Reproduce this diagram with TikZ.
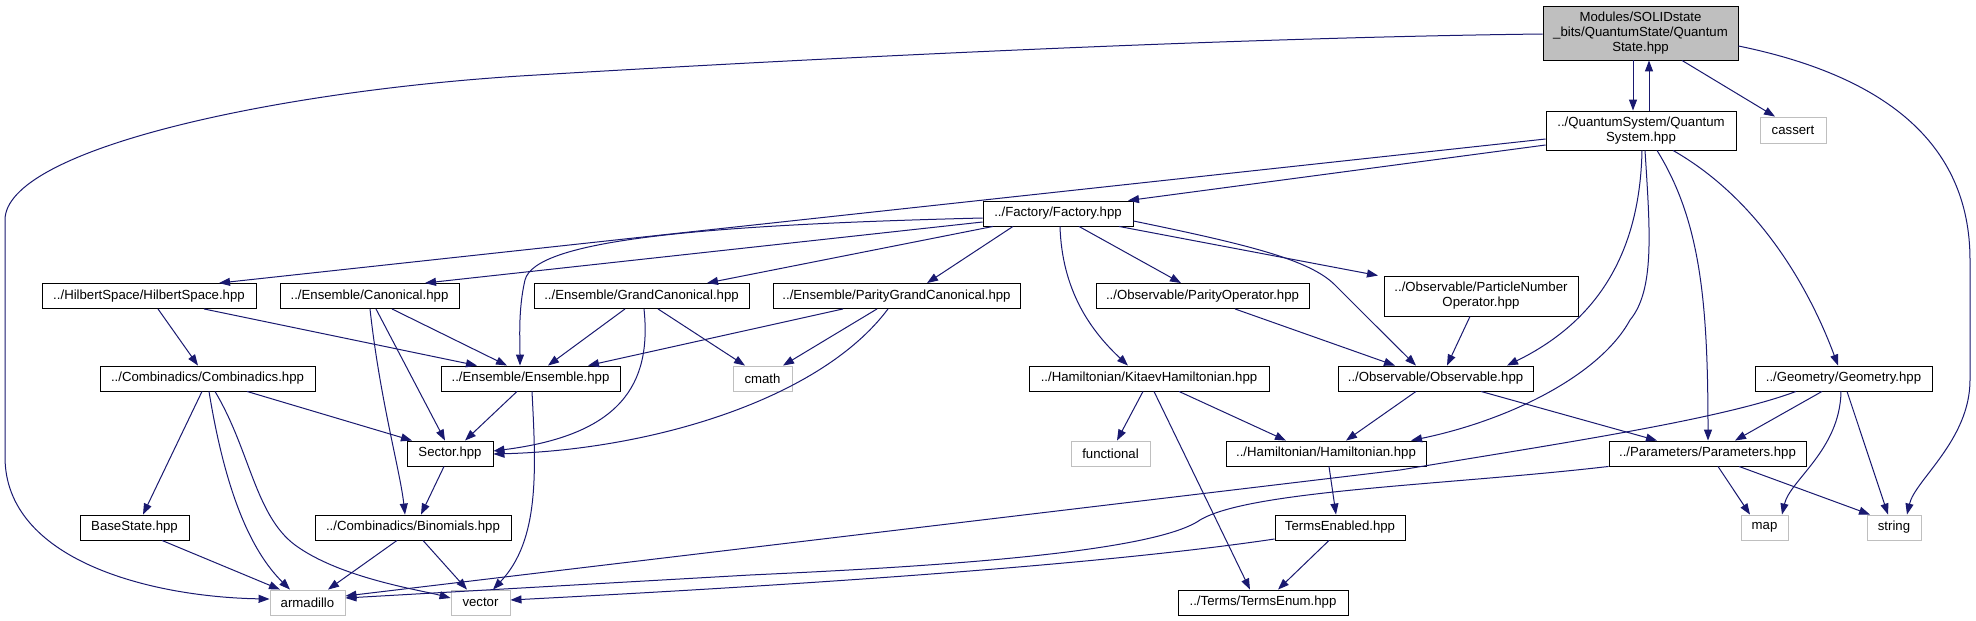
\documentclass[tikz,border=0pt]{standalone}
\usepackage{fontspec}
\setmainfont{Liberation Sans}
\usetikzlibrary{arrows.meta,calc}
\definecolor{edgec}{HTML}{191970}
\definecolor{grayb}{HTML}{BFBFBF}
\begin{document}
\begin{tikzpicture}[x=1pt,y=-1pt,
 box/.style={draw=black,line width=0.9pt,fill=white,inner sep=0pt,align=center,minimum height=25pt,font=\fontsize{13.2}{15}\selectfont},
 gbox/.style={box,draw=grayb},
 e/.style={draw=edgec,line width=1pt,-{Triangle[length=11pt,width=8pt]}}]
\useasboundingbox[fill=white] (0,0) rectangle (1976,621);
% row 0-2
\node[box,fill=grayb,minimum width=195pt,minimum height=54pt] (QS) at (1640.5,33) {Modules/SOLIDstate\\\_bits/QuantumState/Quantum\\State.hpp};
\node[box,minimum width=190pt,minimum height=39pt] (QSys) at (1641,130.5) {../QuantumSystem/Quantum\\System.hpp};
\node[gbox,minimum width=66pt,minimum height=26pt] (cassert) at (1793,130) {cassert};
\node[box,minimum width=150pt] (Factory) at (1058,213.5) {../Factory/Factory.hpp};
% row 3
\node[box,minimum width=214pt] (HS) at (149,296) {../HilbertSpace/HilbertSpace.hpp};
\node[box,minimum width=179pt] (Canon) at (369.5,296) {../Ensemble/Canonical.hpp};
\node[box,minimum width=215pt] (GC) at (641.5,296) {../Ensemble/GrandCanonical.hpp};
\node[box,minimum width=247pt] (PGC) at (896.5,296) {../Ensemble/ParityGrandCanonical.hpp};
\node[box,minimum width=213pt] (PO) at (1202.5,296) {../Observable/ParityOperator.hpp};
\node[box,minimum width=194pt,minimum height=40pt] (PN) at (1481,296) {../Observable/ParticleNumber\\Operator.hpp};
% row 4
\node[box,minimum width=215pt] (Comb) at (207.5,378.5) {../Combinadics/Combinadics.hpp};
\node[box,minimum width=179pt] (Ens) at (530.5,378.5) {../Ensemble/Ensemble.hpp};
\node[gbox,minimum width=59pt] (cmath) at (762.5,378.5) {cmath};
\node[box,minimum width=240pt] (Kitaev) at (1149,378.5) {../Hamiltonian/KitaevHamiltonian.hpp};
\node[box,minimum width=195pt] (Obs) at (1435.5,378.5) {../Observable/Observable.hpp};
\node[box,minimum width=177pt] (Geom) at (1843.5,378.5) {../Geometry/Geometry.hpp};
% row 5
\node[box,minimum width=86pt] (Sector) at (450,453.5) {Sector.hpp};
\node[gbox,minimum width=79pt] (functional) at (1110.5,453.5) {functional};
\node[box,minimum width=200pt] (Ham) at (1326,453.5) {../Hamiltonian/Hamiltonian.hpp};
\node[box,minimum width=197pt] (Params) at (1707.5,453.5) {../Parameters/Parameters.hpp};
% row 6
\node[box,minimum width=109pt] (BaseState) at (134.5,527.5) {BaseState.hpp};
\node[box,minimum width=196pt] (Binom) at (413,527.5) {../Combinadics/Binomials.hpp};
\node[box,minimum width=130pt] (TermsEnabled) at (1340,527.5) {TermsEnabled.hpp};
\node[gbox,minimum width=47pt] (map) at (1764.5,527.5) {map};
\node[gbox,minimum width=54pt] (string) at (1894,527.5) {string};
% row 7
\node[gbox,minimum width=75pt] (armadillo) at (307.5,602.5) {armadillo};
\node[gbox,minimum width=59pt] (vector) at (480.5,602.5) {vector};
\node[box,minimum width=170pt] (TermsEnum) at (1263,602.5) {../Terms/TermsEnum.hpp};

% edges from QuantumState
\draw[e] (QS.south -| 1633,0) -- (QSys.north -| 1633,0);
\draw[e] (QSys.north -| 1649,0) -- (QS.south -| 1649,0);
\draw[e] (QS.south -| 1682,0) -- (cassert.north -| 1775,0);
\draw[e] (QS.east |- 0,46) .. controls (1880,75) and (1970,140) .. (1970,260) -- (1970,380) .. controls (1970,440) and (1915,480) .. (string.north -| 1907,0);
\draw[e] (QS.west |- 0,34) .. controls (1200,38) and (750,62) .. (520,76) .. controls (270,92) and (5,150) .. (5,220) -- (5,457) .. controls (5,560) and (150,597) .. (armadillo.west |- 0,599);
% from QuantumSystem
\draw[e] (QSys.west |- 0,145) -- (Factory.north -| 1128,0);
\draw[e] (QSys.west |- 0,139) -- (HS.north -| 219,0);
\draw[e] (QSys.south -| 1642,0) .. controls (1640,250) and (1600,320) .. (Obs.north -| 1507,0);
\draw[e] (QSys.south -| 1645,0) .. controls (1650,230) and (1655,290) .. (1630,320) .. controls (1600,375) and (1510,420) .. (Ham.north -| 1411,0);
\draw[e] (QSys.south -| 1657,0) .. controls (1700,220) and (1708,300) .. (Params.north -| 1708,0);
\draw[e] (QSys.south -| 1673,0) .. controls (1760,200) and (1810,290) .. (Geom.north -| 1838,0);
% from Factory
\draw[e] (Factory.west |- 0,222) -- (Canon.north -| 425,0);
\draw[e] (Factory.west |- 0,218) .. controls (700,225) and (535,240) .. (525,280) .. controls (518,310) and (520,340) .. (Ens.north -| 520,0);
\draw[e] (Factory.south -| 993,0) -- (GC.north -| 707,0);
\draw[e] (Factory.south -| 1013,0) -- (PGC.north -| 927,0);
\draw[e] (Factory.south -| 1060,0) .. controls (1062,290) and (1090,330) .. (Kitaev.north -| 1128,0);
\draw[e] (Factory.south -| 1079,0) -- (PO.north -| 1181,0);
\draw[e] (Factory.south -| 1119,0) -- (PN.north -| 1378,0);
\draw[e] (Factory.east |- 0,221) .. controls (1250,245) and (1310,260) .. (1335,285) .. controls (1365,315) and (1395,345) .. (Obs.north -| 1416,0);
% Geometry, Parameters
\draw[e] (Geom.south -| 1796,0) .. controls (1720,420) and (1550,445) .. (1400,470) -- (armadillo.east |- 0,596);
\draw[e] (Geom.south -| 1822,0) -- (Params.north -| 1735,0);
\draw[e] (Geom.south -| 1841,0) .. controls (1840,450) and (1790,480) .. (map.north -| 1782,0);
\draw[e] (Geom.south -| 1847,0) -- (string.north -| 1888,0);
\draw[e] (Params.south -| 1718,0) -- (map.north -| 1750,0);
\draw[e] (Params.south -| 1739,0) -- (string.north -| 1870,0);
\draw[e] (Params.south west) .. controls (1450,485) and (1250,490) .. (1200,520) .. controls (1150,555) and (900,568) .. (750,575) -- (armadillo.east |- 0,598);
\draw[e] (TermsEnabled.west |- 0,539) .. controls (1100,565) and (800,585) .. (vector.east |- 0,600);
% Observables, Hamiltonians
\draw[e] (Obs.south -| 1416,0) -- (Ham.north -| 1346,0);
\draw[e] (Obs.south -| 1481,0) -- (Params.north -| 1657,0);
\draw[e] (PO.south -| 1235,0) -- (Obs.north -| 1395,0);
\draw[e] (PN.south -| 1470,0) -- (Obs.north -| 1447,0);
\draw[e] (Kitaev.south -| 1143,0) -- (functional.north -| 1117,0);
\draw[e] (Kitaev.south -| 1154,0) -- (TermsEnum.north -| 1250,0);
\draw[e] (Kitaev.south -| 1179,0) -- (Ham.north -| 1286,0);
\draw[e] (Ham.south -| 1329,0) -- (TermsEnabled.north -| 1336,0);
\draw[e] (TermsEnabled.south -| 1329,0) -- (TermsEnum.north -| 1278,0);
% left part
\draw[e] (HS.south -| 158,0) -- (Comb.north -| 198,0);
\draw[e] (HS.south -| 204,0) -- (Ens.north -| 477,0);
\draw[e] (Canon.south -| 392,0) -- (Ens.north -| 507,0);
\draw[e] (Canon.south -| 376,0) -- (Sector.north -| 445,0);
\draw[e] (Canon.south -| 370,0) .. controls (380,400) and (400,470) .. (Binom.north -| 405,0);
\draw[e] (Ens.south -| 517,0) -- (Sector.north -| 465,0);
\draw[e] (Ens.south -| 532,0) .. controls (536,470) and (540,540) .. (vector.north -| 493,0);
\draw[e] (GC.south -| 625,0) -- (Ens.north -| 548,0);
\draw[e] (GC.south -| 658,0) -- (cmath.north -| 745,0);
\draw[e] (GC.south -| 644,0) .. controls (652,385) and (620,435) .. (Sector.east |- 0,451);
\draw[e] (PGC.south -| 843,0) -- (Ens.north -| 588,0);
\draw[e] (PGC.south -| 877,0) -- (cmath.north -| 783,0);
\draw[e] (PGC.south -| 888,0) .. controls (820,400) and (650,450) .. (Sector.east |- 0,454);
\draw[e] (Comb.south -| 202,0) -- (BaseState.north -| 143,0);
\draw[e] (Comb.south -| 209,0) .. controls (225,490) and (250,550) .. (armadillo.north -| 290,0);
\draw[e] (Comb.south -| 215,0) .. controls (250,450) and (255,515) .. (295,545) .. controls (340,578) and (420,590) .. (vector.west |- 0,598);
\draw[e] (Comb.south -| 247,0) -- (Sector.north -| 412,0);
\draw[e] (Sector.south -| 444,0) -- (Binom.north -| 421,0);
\draw[e] (BaseState.south -| 162,0) -- (armadillo.north -| 280,0);
\draw[e] (Binom.south -| 397,0) -- (armadillo.north -| 328,0);
\draw[e] (Binom.south -| 423,0) -- (vector.north -| 467,0);
\end{tikzpicture}
\end{document}
